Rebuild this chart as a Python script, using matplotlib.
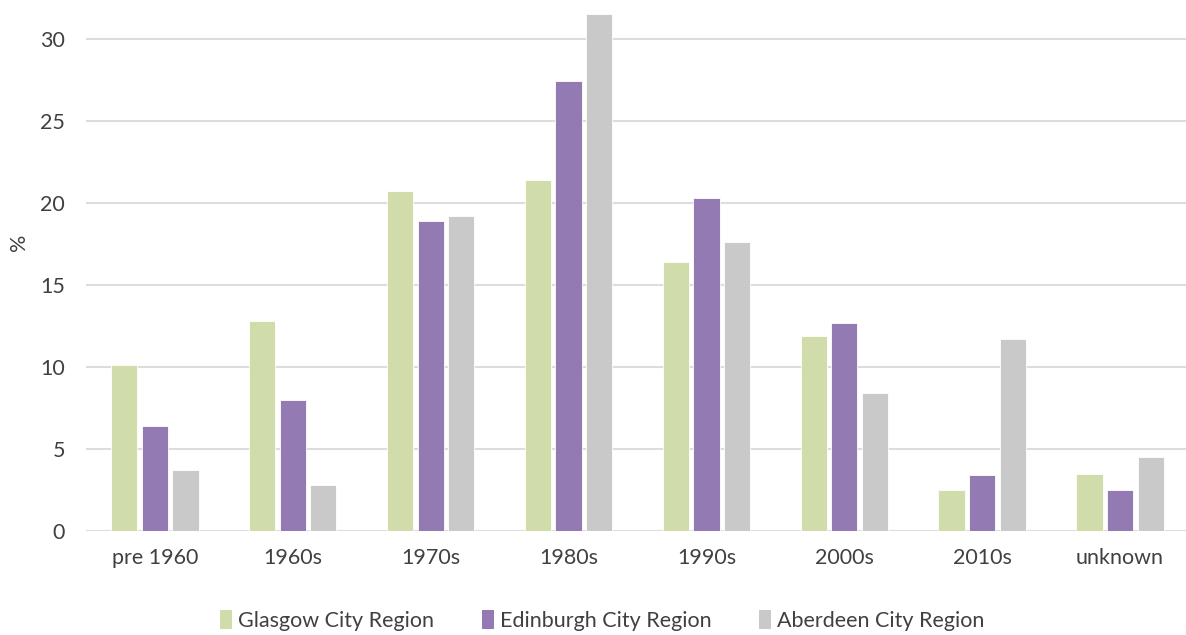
import numpy as np
import matplotlib.pyplot as plt
from matplotlib.patches import Patch

plt.rcParams['font.family'] = ['Lato', 'DejaVu Sans']

# share of stock by build period, per city region
periods = ['pre 1960', '1960s', '1970s', '1980s', '1990s', '2000s', '2010s', 'unknown']
glasgow = [10.1, 12.8, 20.7, 21.4, 16.4, 11.9, 2.5, 3.5]
edinburgh = [6.4, 8.0, 18.9, 27.4, 20.3, 12.7, 3.4, 2.5]
aberdeen = [3.7, 2.8, 19.2, 31.5, 17.6, 8.4, 11.7, 4.5]
series_names = ['Glasgow City Region', 'Edinburgh City Region', 'Aberdeen City Region']
colors = ['#D0DDAA', '#937AB3', '#C9C9C9']
text_col = '#404040'

fig = plt.figure(figsize=(11.86, 6.35), dpi=100)
ax = fig.add_axes([0.0725, 0.1638, 0.93, 0.8268])

x = np.arange(len(periods))
step = 0.222
for i, (vals, col) in enumerate(zip([glasgow, edinburgh, aberdeen], colors)):
    ax.bar(x + (i - 1) * step, vals, width=0.19, color=col,
           edgecolor='white', linewidth=0.6, zorder=3)

ax.set_xlim(-0.5, len(periods) - 0.5)
ax.set_ylim(0, 32)
ax.set_yticks(range(0, 31, 5))
ax.set_xticks(x)
ax.set_xticklabels(periods)
ax.grid(axis='y', color='#DDDDDD', linewidth=1.5, zorder=0)
for s in ax.spines.values():
    s.set_visible(False)
ax.tick_params(axis='both', length=0, labelsize=15.5, colors=text_col)
ax.tick_params(axis='y', pad=15)
ax.tick_params(axis='x', pad=12)
ax.set_ylabel('%', fontsize=15.5, color=text_col)
ax.yaxis.set_label_coords(-0.052, 0.55)

handles = [Patch(facecolor=c, edgecolor='none') for c in colors]
fig.legend(handles, series_names, loc='center', bbox_to_anchor=(0.508, 0.023),
           ncol=3, frameon=False, fontsize=15.5, handlelength=0.55, handleheight=1.0,
           handletextpad=0.3, columnspacing=2.2, labelcolor=text_col)

fig.savefig('out.png', dpi=100)
